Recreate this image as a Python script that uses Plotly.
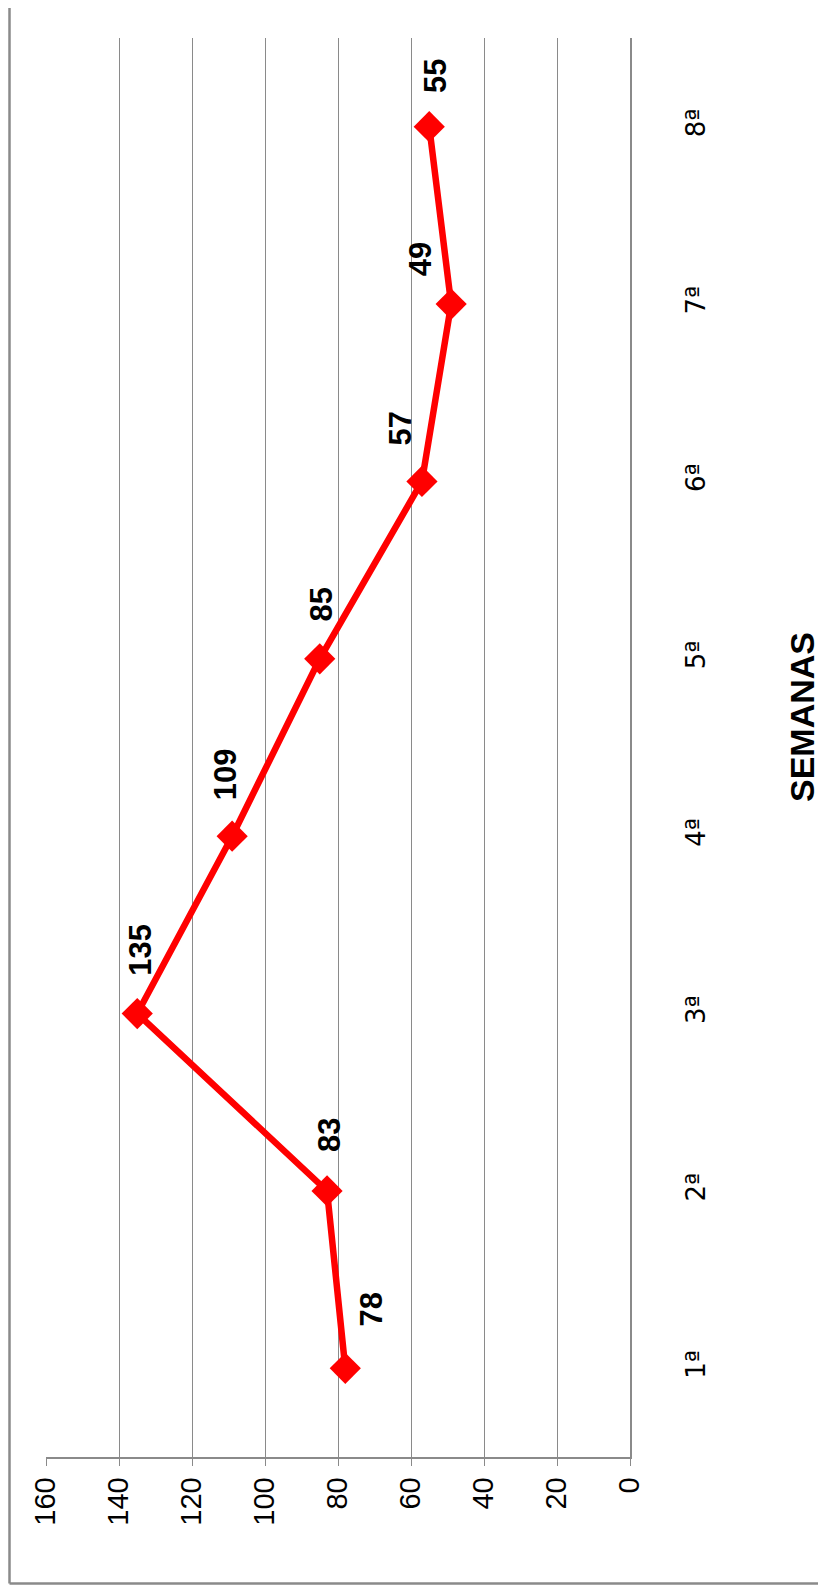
import plotly.graph_objects as go

semanas = ["1ª", "2ª", "3ª", "4ª", "5ª", "6ª", "7ª", "8ª"]
valores = [78, 83, 135, 109, 85, 57, 49, 55]
ticks_valor = [0, 20, 40, 60, 80, 100, 120, 140, 160]

# label offsets (pixels) relative to each point, as placed in the original
label_dx = [26, 3, 3, -7, 2, -22, -31, 6]
label_dy = [59, 56, 64, 62, 54, 53, 45, 51]

OFF = 8  # default body margin of the page
W, H = 826 - OFF, 1590 - OFF
PL, PR, PT, PB = 46, 630, 37.5, 1457.5  # plot area in page pixels
L, T = PL - OFF, PT - OFF
R = W - (PR - OFF)
B = H - (PB - OFF)
PW, PH = PR - PL, PB - PT
GRID = "#8a8a8a"
FONT = "Liberation Sans, Arial, sans-serif"

fig = go.Figure()
fig.add_trace(go.Scatter(
    x=valores, y=semanas, mode="lines+markers",
    line=dict(color="#ff0000", width=6.5),
    marker=dict(symbol="diamond", size=24, color="#ff0000", line=dict(width=0)),
    showlegend=False, cliponaxis=False,
))

for v, s, dx, dy in zip(valores, semanas, label_dx, label_dy):
    fig.add_annotation(
        x=v, y=s, xref="x", yref="y", text=str(v), showarrow=False,
        textangle=-90, xshift=dx, yshift=dy, xanchor="center", yanchor="middle",
        font=dict(family=FONT, size=31, color="#000000", weight="bold"),
    )

fig.add_annotation(
    x=(802 - PL) / PW, y=(PB - 717) / PH,
    xref="paper", yref="paper", text="SEMANAS", showarrow=False, textangle=-90,
    xanchor="center", yanchor="middle",
    font=dict(family=FONT, size=34, color="#000000", weight="bold"),
)

# outer chart border (left and bottom edges; the rest is cropped in the original)
bx = (9.5 - PL) / PW
by = -(1584 - PB) / PH
fig.add_shape(type="line", xref="paper", yref="paper", x0=bx, x1=bx, y0=by, y1=2,
              line=dict(color="#8a8a8a", width=2.5), layer="below")
fig.add_shape(type="line", xref="paper", yref="paper", x0=bx, x1=2, y0=by, y1=by,
              line=dict(color="#8a8a8a", width=2.5), layer="below")

fig.update_xaxes(
    range=[160, 0], tickvals=ticks_valor, ticktext=[str(t) for t in ticks_valor],
    showgrid=True, gridcolor=GRID, gridwidth=1, zeroline=False,
    showline=True, linecolor=GRID, linewidth=1.5,
    ticks="outside", ticklen=7, tickcolor=GRID, tickangle=-90,
    tickfont=dict(family=FONT, size=29, color="#000000"),
)
fig.update_yaxes(
    type="category", categoryorder="array", categoryarray=semanas,
    range=[-0.5, 7.5], side="right", showgrid=False, zeroline=False,
    showline=True, linecolor=GRID, linewidth=1.5, ticks="", tickangle=-90,
    ticklabelstandoff=42,
    tickfont=dict(family="DejaVu Sans, sans-serif", size=26, color="#000000"),
)

fig.update_layout(
    width=W, height=H, margin=dict(l=L, r=R, t=T, b=B, autoexpand=False),
    paper_bgcolor="#ffffff", plot_bgcolor="#ffffff",
)

fig.write_html("out.html")
